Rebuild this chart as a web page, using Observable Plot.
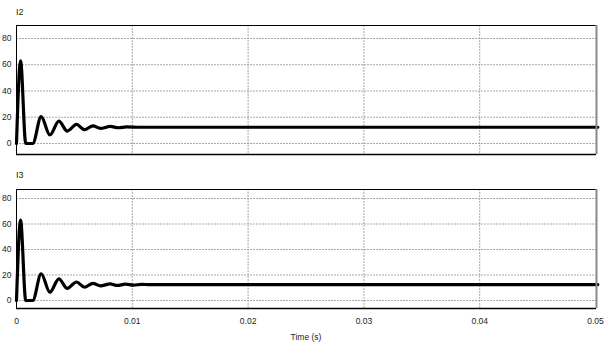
<!DOCTYPE html>
<html>
<head>
<meta charset="utf-8">
<script src="https://cdn.jsdelivr.net/npm/d3@7"></script>
<script src="https://cdn.jsdelivr.net/npm/@observablehq/plot@0.6"></script>
<style>
  html, body { margin: 0; padding: 0; background: #fff; }
  #wrap { position: relative; width: 605px; height: 352px; overflow: hidden;
          font-family: "Liberation Sans Narrow", "Liberation Sans", Arial, sans-serif; font-size: 9px; color: #000; }
  .panel { position: absolute; left: 0; }
  .ttl { position: absolute; font-size: 9px; line-height: 10px; color: #222; }
</style>
</head>
<body>
<div id="wrap"></div>
<script>
// ---- data ----
const timeI2 = [0, 0.00035, 0.0008, 0.0014, 0.00213, 0.00288, 0.00366, 0.00438, 0.00518, 0.00587, 0.0066, 0.00725, 0.0081, 0.0088, 0.0095, 0.0105, 0.0502];
const valueI2 = [0, 63, 0, 0, 20.5, 6.5, 17, 9.5, 14.5, 10.5, 13.5, 11.5, 13, 12, 12.6, 12.4, 12.4];
const timeI3 = [0, 0.00035, 0.0008, 0.0014, 0.00213, 0.00288, 0.00366, 0.00438, 0.00518, 0.00587, 0.0066, 0.00725, 0.0081, 0.0087, 0.0094, 0.0101, 0.0108, 0.0115, 0.0502];
const valueI3 = [0, 63, 0, 0, 21, 6.5, 17, 9.5, 14.5, 10.5, 13.5, 11.5, 13, 11.8, 12.8, 12, 12.7, 12.4, 12.5];
const xTicks = [0, 0.01, 0.02, 0.03, 0.04, 0.05];
const xTickLabels = ["0", "0.01", "0.02", "0.03", "0.04", "0.05"];
const yTicks = [0, 20, 40, 60, 80];
const panelTitles = ["I2", "I3"];
const xLabel = "Time (s)";

const font = '"Liberation Sans Narrow", "Liberation Sans", Arial, sans-serif';
const xDomain = [0, 0.050086];
const wrap = document.getElementById("wrap");

function panel(times, values, opts) {
  const data = times.map((t, i) => ({t, v: values[i]}));
  const [y0, y1] = opts.yDomain;
  const chart = Plot.plot({
    width: 605,
    height: opts.height,
    marginLeft: 16,
    marginRight: 9,
    marginTop: opts.marginTop,
    marginBottom: opts.marginBottom,
    style: {fontFamily: font, fontSize: "8.5px", color: "#222", background: "#fff"},
    x: {domain: xDomain, ticks: xTicks, tickFormat: (d) => xTickLabels[xTicks.indexOf(d)], tickSize: 0, tickPadding: 9, label: null, axis: opts.showX ? "bottom" : null},
    y: {domain: [y0, y1], ticks: yTicks, tickSize: 0, tickPadding: 5, label: null},
    marks: [
      Plot.ruleY(yTicks, {stroke: "#a8a8a8", strokeDasharray: "2,1", strokeWidth: 1}),
      Plot.ruleX(xTicks.slice(1, -1), {stroke: "#a8a8a8", strokeDasharray: "2,1", strokeWidth: 1}),
      Plot.line(data, {x: "t", y: "v", stroke: "#000", strokeWidth: 3.2, curve: "monotone-x"}),
      Plot.ruleX([xDomain[0]], {stroke: "#000", strokeWidth: 1}),
      Plot.ruleY([y1], {stroke: "#000", strokeWidth: 1}),
      Plot.ruleY([y0], {stroke: "#000", strokeWidth: 1.5}),
      Plot.ruleX([xDomain[1]], {stroke: "#888", strokeWidth: 2})
    ]
  });
  chart.classList.add("panel");
  chart.style.top = opts.top + "px";
  wrap.appendChild(chart);
}

panel(timeI2, valueI2, {top: 0, height: 158, marginTop: 25, marginBottom: 4, yDomain: [-8.38, 89.9], showX: false});
panel(timeI3, valueI3, {top: 160, height: 192, marginTop: 29, marginBottom: 44, yDomain: [-6.27, 87.06], showX: true});

const t1 = document.createElement("div");
t1.className = "ttl"; t1.textContent = panelTitles[0];
t1.style.left = "16px"; t1.style.top = "7px";
wrap.appendChild(t1);
const t2 = document.createElement("div");
t2.className = "ttl"; t2.textContent = panelTitles[1];
t2.style.left = "16px"; t2.style.top = "170px";
wrap.appendChild(t2);
const xl = document.createElement("div");
xl.className = "ttl"; xl.textContent = xLabel;
xl.style.left = "0px"; xl.style.width = "612px"; xl.style.textAlign = "center"; xl.style.top = "332px"; xl.style.fontSize = "8.5px";
wrap.appendChild(xl);
</script>
</body>
</html>
